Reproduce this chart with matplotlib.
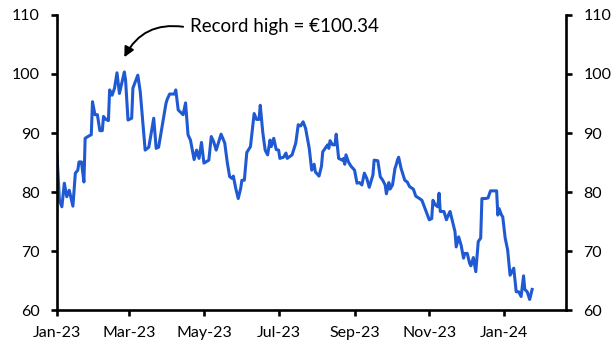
import matplotlib
matplotlib.use('Agg')
import matplotlib.pyplot as plt
import matplotlib.dates as mdates
import pandas as pd

# EU carbon price
start_date = '2023-01-01'
day_offsets = [
    0, 2, 4, 6, 8, 10, 13, 15, 17, 18, 20, 22, 23, 26, 28, 29, 31, 33, 35, 37,
    38, 40, 42, 43, 45, 47, 49, 51, 52, 55, 56, 58, 61, 62, 66, 68, 72, 75, 79, 81,
    83, 89, 90, 92, 96, 97, 99, 103, 105, 107, 109, 112, 114, 116, 118, 120, 124, 126, 128, 130,
    134, 137, 139, 141, 143, 144, 146, 148, 150, 151, 153, 155, 158, 161, 163, 165, 166, 168, 170, 172,
    174, 175, 177, 179, 181, 182, 185, 187, 188, 192, 195, 197, 199, 201, 203, 206, 208, 210, 211, 214,
    216, 217, 219, 221, 222, 223, 225, 227, 228, 230, 233, 234, 235, 236, 238, 240, 243, 245, 247, 249,
    251, 253, 255, 258, 259, 262, 264, 266, 268, 269, 271, 272, 274, 276, 277, 278, 279, 281, 284, 286,
    288, 291, 293, 296, 298, 300, 304, 306, 307, 309, 311, 312, 313, 316, 318, 320, 321, 323, 325, 326,
    328, 330, 332, 333, 335, 337, 338, 340, 342, 343, 344, 346, 347, 350, 352, 354, 357, 359, 360, 361,
    363, 364, 366, 368, 370, 373, 375, 377, 379, 381, 382, 384, 386, 388,
]
prices = [
    86.3, 78.6, 77.5, 81.5, 79.2, 80.3, 77.6, 83.2, 83.7, 85.1, 85.1, 81.7, 89.1, 89.5, 89.7, 95.3, 93.1, 93.1, 90.4, 90.4,
    92.8, 92.3, 92.1, 97.3, 96.4, 97.6, 100.2, 96.7, 97.6, 100.34, 99.0, 92.2, 92.5, 97.6, 99.8, 97.0, 87.1, 87.6, 92.5, 87.4,
    87.6, 95.0, 95.7, 96.6, 96.6, 97.3, 93.9, 93.1, 95.1, 89.7, 88.8, 85.5, 87.1, 85.7, 88.4, 84.9, 85.4, 89.4, 88.5, 87.1,
    89.8, 88.3, 85.1, 82.6, 82.3, 82.7, 80.6, 78.9, 80.6, 82.0, 82.0, 86.7, 87.7, 93.3, 92.3, 92.3, 94.7, 90.2, 87.1, 86.3,
    88.8, 87.7, 89.1, 87.2, 87.1, 85.7, 85.9, 86.6, 85.7, 86.3, 88.3, 91.4, 91.2, 91.9, 90.8, 87.4, 83.7, 84.7, 83.4, 82.7,
    84.4, 86.8, 87.4, 88.0, 87.4, 88.7, 88.0, 88.0, 89.8, 85.7, 85.4, 85.7, 84.7, 86.3, 85.1, 84.4, 83.7, 81.5, 81.6, 81.2,
    83.2, 82.3, 80.8, 82.9, 85.4, 85.3, 82.6, 82.0, 81.2, 79.7, 81.6, 80.5, 81.2, 84.0, 84.6, 85.4, 85.9, 84.0, 82.0, 81.7,
    80.9, 80.5, 79.3, 78.9, 78.6, 77.5, 75.3, 75.5, 78.6, 77.8, 77.5, 79.8, 76.7, 76.7, 75.3, 76.3, 76.7, 75.0, 73.3, 70.7,
    72.4, 71.0, 68.8, 69.6, 69.6, 67.9, 67.5, 68.9, 66.5, 69.0, 71.6, 72.2, 78.9, 78.9, 79.0, 80.2, 80.2, 80.2, 76.1, 77.2,
    76.1, 75.8, 72.2, 70.2, 65.9, 67.1, 63.1, 63.1, 62.3, 65.8, 63.5, 63.1, 61.8, 63.5,
]
y_ticks = [60, 70, 80, 90, 100, 110]
record_label = 'Record high = €100.34'

dates = pd.to_datetime(start_date) + pd.to_timedelta(day_offsets, unit='D')
series = pd.Series(prices, index=dates)

plt.rcParams['font.family'] = ['Lato', 'DejaVu Sans']

fig = plt.figure(figsize=(6.16, 3.56), dpi=100)
ax = fig.add_axes([0.0925, 0.129, 0.827, 0.829])

ax.plot(series.index, series.values, color='#1f5ad2', linewidth=2.2)

# axis ranges
ax.set_ylim(60, 110)
ax.set_yticks(y_ticks)
ax.set_xlim(pd.Timestamp(start_date), pd.Timestamp(start_date) + pd.Timedelta(days=416))
ax.xaxis.set_major_locator(mdates.MonthLocator(bymonth=[1, 3, 5, 7, 9, 11]))
ax.xaxis.set_major_formatter(mdates.DateFormatter('%b-%y'))

# spines and ticks
ax.spines['top'].set_visible(False)
for side in ['left', 'right', 'bottom']:
    ax.spines[side].set_linewidth(1.9)
ax.tick_params(axis='both', direction='out', length=4.3, width=1.9, labelsize=11.5)
ax.tick_params(axis='x', pad=7)
ax.tick_params(axis='y', right=True, labelright=True, pad=8)

# annotation pointing at the record high
peak_date = series.idxmax()
peak_value = series.max()
ax.annotate('', xy=(peak_date, peak_value + 2.5),
            xytext=(pd.Timestamp(start_date) + pd.Timedelta(days=103), 108),
            arrowprops=dict(arrowstyle='-|>', color='black', lw=1.4,
                            mutation_scale=15, shrinkA=0, shrinkB=0,
                            connectionstyle='arc3,rad=0.35'))
ax.text(pd.Timestamp(start_date) + pd.Timedelta(days=109), 108, record_label,
        fontsize=13.5, va='center', ha='left')

fig.savefig('out.png', dpi=100)
plt.close(fig)
